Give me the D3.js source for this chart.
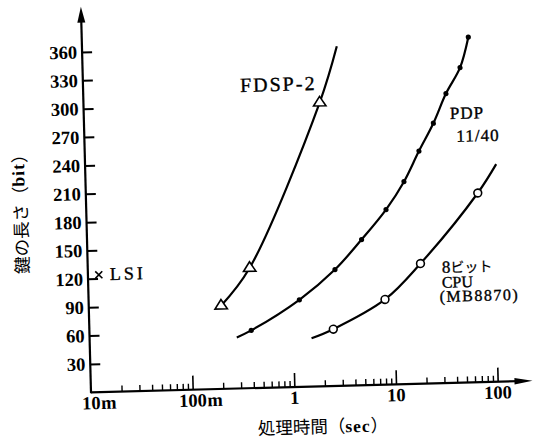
<!DOCTYPE html>
<html>
<head>
<meta charset="utf-8">
<script src="https://cdn.jsdelivr.net/npm/d3@7"></script>
<style>
body { margin: 0; background: #fff; }
svg { display: block; }
.tick-label { font-family: "Liberation Serif", serif; font-weight: bold; font-size: 18.5px; fill: #000; }
.note { font-family: "Liberation Serif", serif; font-size: 17px; fill: #000; stroke: #000; stroke-width: 0.35px; }
.jp { font-family: "Noto Sans CJK JP", sans-serif; }
</style>
</head>
<body>
<div id="chart"></div>
<script>
// FDSP-2 (open triangles)
var fdspTime = [0.20, 0.39, 2.1, 3.2];
var fdspBits = [88, 127, 300, 359];
var fdspMarked = [1, 1, 1, 0];

// PDP 11/40 (small filled dots)
var pdpTime = [0.28, 0.39, 1.18, 2.69, 5.0, 8.85, 13.5, 19.3, 27.2, 36.8, 51.4, 63.1];
var pdpBits = [54, 61, 92, 123, 154, 185, 214, 246, 275, 306, 333, 365];
var pdpMarked = [0, 1, 1, 1, 1, 1, 1, 1, 1, 1, 1, 1];

// 8bit CPU MB8870 (open circles)
var cpuTime = [1.52, 2.5, 8.2, 18.7, 71.3, 110];
var cpuBits = [51, 60, 90, 127, 200, 230];
var cpuMarked = [0, 1, 1, 1, 1, 0];

// LSI (cross)
var lsiTime = [0.0128];
var lsiBits = [124];

var xTickVals = [0.01, 0.1, 1, 10, 100];
var xTickLabels = ["10m", "100m", "1", "10", "100"];
var yTickVals = [30, 60, 90, 120, 150, 180, 210, 240, 270, 300, 330, 360];

var W = 541, H = 445;
var ox = 91, oy = 392.3;          // axis origin
var decade = 101.7;               // px per decade
var xMax = 220, yMax = 408;       // where the axis arrows end

var svg = d3.select("#chart")
    .append("svg")
    .attr("width", W)
    .attr("height", H);

svg.append("rect").attr("width", W).attr("height", H).attr("fill", "#fff");

// the scanned figure is a little tilted
var g = svg.append("g").attr("transform", "rotate(-1.5," + ox + "," + oy + ")");

var x = d3.scaleLog()
    .domain([0.01, 100])
    .range([ox, ox + 4 * decade]);

var y = d3.scaleLinear()
    .domain([0, 360])
    .range([oy, oy - 340.4]);

// Y axis
var yAxis = g.append("g")
    .attr("transform", "translate(" + ox + ",0)")
    .call(d3.axisLeft(y).tickValues(yTickVals).tickSizeInner(-10).tickSizeOuter(0).tickPadding(5));
yAxis.select(".domain").remove();
yAxis.selectAll("line").attr("stroke", "#000").attr("stroke-width", 2);
yAxis.selectAll("text").attr("class", "tick-label");

// X axis: decade ticks and minor ticks
var xAxisMajor = g.append("g")
    .attr("transform", "translate(0," + oy + ")")
    .call(d3.axisBottom(x).tickValues(xTickVals.slice(1)).tickSizeInner(-14).tickSizeOuter(0).tickFormat(""));
xAxisMajor.select(".domain").remove();
xAxisMajor.selectAll("line").attr("stroke", "#000").attr("stroke-width", 1.6);

var minor = x.ticks().filter(function(v) { return xTickVals.indexOf(v) < 0; });
var xAxisMinor = g.append("g")
    .attr("transform", "translate(0," + oy + ")")
    .call(d3.axisBottom(x).tickValues(minor).tickSizeInner(-6).tickSizeOuter(0).tickFormat(""));
xAxisMinor.select(".domain").remove();
xAxisMinor.selectAll("line").attr("stroke", "#000").attr("stroke-width", 1.4);

// axis lines with arrows
var xe = x(xMax), ye = y(yMax);
g.append("line").attr("x1", ox).attr("y1", oy).attr("x2", xe - 10).attr("y2", oy)
    .attr("stroke", "#000").attr("stroke-width", 2.2);
g.append("path").attr("d", "M" + xe + "," + oy + "L" + (xe - 18) + "," + (oy - 3.2) + "L" + (xe - 18) + "," + (oy + 3.2) + "Z");
g.append("line").attr("x1", ox).attr("y1", oy + 1).attr("x2", ox).attr("y2", ye + 10)
    .attr("stroke", "#000").attr("stroke-width", 2.2);
g.append("path").attr("d", "M" + ox + "," + ye + "L" + (ox - 4) + "," + (ye + 16) + "L" + (ox + 4) + "," + (ye + 16) + "Z");

// X tick labels: the number is centred on the tick, "m" trails
xTickVals.forEach(function(v, i) {
    var lab = xTickLabels[i];
    var num = lab.replace(/[^0-9]/g, ""), suf = lab.replace(/[0-9]/g, "");
    var t = g.append("text").attr("class", "tick-label")
        .attr("x", x(v)).attr("y", oy + 17)
        .attr("text-anchor", "middle").text(num);
    if (suf) {
        g.append("text").attr("class", "tick-label")
            .attr("x", x(v) + t.node().getComputedTextLength() / 2 + 0.5).attr("y", oy + 17)
            .text(suf);
    }
});

// axis titles
var xt = g.append("text").attr("x", 322).attr("y", 439).attr("text-anchor", "middle")
    .attr("font-size", 17.5);
xt.append("tspan").attr("class", "jp").text("処理時間（");
xt.append("tspan").attr("class", "tick-label").style("font-size", "17.5px").attr("letter-spacing", 1).text("sec");
xt.append("tspan").attr("class", "jp").text("）");

var yt = g.append("text").attr("transform", "translate(24,208) rotate(-90)")
    .attr("text-anchor", "middle").attr("dominant-baseline", "central").attr("font-size", 17.5);
yt.append("tspan").attr("class", "jp").text("鍵の長さ（");
yt.append("tspan").attr("class", "tick-label").style("font-size", "17.5px").attr("letter-spacing", 1).text("bit");
yt.append("tspan").attr("class", "jp").text("）");

// curves
var line = d3.line().curve(d3.curveCatmullRom.alpha(0.5));
function curve(times, bits) {
    var pts = times.map(function(t, i) { return [x(t), y(bits[i])]; });
    g.append("path").attr("d", line(pts))
        .attr("fill", "none").attr("stroke", "#000").attr("stroke-width", 2.2);
}
curve(fdspTime, fdspBits);
curve(pdpTime, pdpBits);
curve(cpuTime, cpuBits);

function marked(times, bits, flags) {
    return times.map(function(t, i) { return {t: t, b: bits[i], on: flags[i]}; })
        .filter(function(d) { return d.on; });
}

// triangles
g.append("g").selectAll("path")
    .data(marked(fdspTime, fdspBits, fdspMarked))
    .enter().append("path")
    .attr("d", "M0,-6.2L6.2,3.3L-6.2,3.3Z")
    .attr("transform", function(d) { return "translate(" + x(d.t) + "," + y(d.b) + ")"; })
    .attr("fill", "#fff").attr("stroke", "#000").attr("stroke-width", 1.6);

// dots
g.append("g").selectAll("circle")
    .data(marked(pdpTime, pdpBits, pdpMarked))
    .enter().append("circle")
    .attr("cx", function(d) { return x(d.t); })
    .attr("cy", function(d) { return y(d.b); })
    .attr("r", 2.6)
    .attr("fill", "#000");

// open circles
g.append("g").selectAll("circle")
    .data(marked(cpuTime, cpuBits, cpuMarked))
    .enter().append("circle")
    .attr("cx", function(d) { return x(d.t); })
    .attr("cy", function(d) { return y(d.b); })
    .attr("r", 3.9)
    .attr("fill", "#fff").attr("stroke", "#000").attr("stroke-width", 1.6);

// LSI cross
g.append("g").selectAll("path")
    .data(lsiTime)
    .enter().append("path")
    .attr("d", "M-3.5,-3.5L3.5,3.5M-3.5,3.5L3.5,-3.5")
    .attr("transform", function(d, i) { return "translate(" + x(d) + "," + y(lsiBits[i]) + ")"; })
    .attr("stroke", "#000").attr("stroke-width", 1.6);

// labels next to the curves
g.append("text").attr("class", "note").attr("x", 248).attr("y", 96)
    .style("font-size", "20px").attr("letter-spacing", 2).text("FDSP-2");
g.append("text").attr("class", "note").attr("x", 457).attr("y", 128.5)
    .attr("letter-spacing", 1).text("PDP");
g.append("text").attr("class", "note").attr("x", 463).attr("y", 151.5)
    .attr("letter-spacing", 1).text("11/40");
var c1 = g.append("text").attr("class", "note").attr("x", 445).attr("y", 282);
c1.append("tspan").text("8");
c1.append("tspan").attr("class", "jp").style("font-size", "14px").style("stroke-width", "0.2px").text("ビット");
g.append("text").attr("class", "note").attr("x", 444.5).attr("y", 297)
    .style("font-size", "16px").text("CPU");
g.append("text").attr("class", "note").attr("x", 442).attr("y", 311)
    .style("font-size", "16px").attr("letter-spacing", 1.5).text("(MB8870)");
g.append("text").attr("class", "note").attr("x", 113).attr("y", 280.5)
    .style("font-size", "18px").attr("letter-spacing", 3).text("LSI");
</script>
</body>
</html>
